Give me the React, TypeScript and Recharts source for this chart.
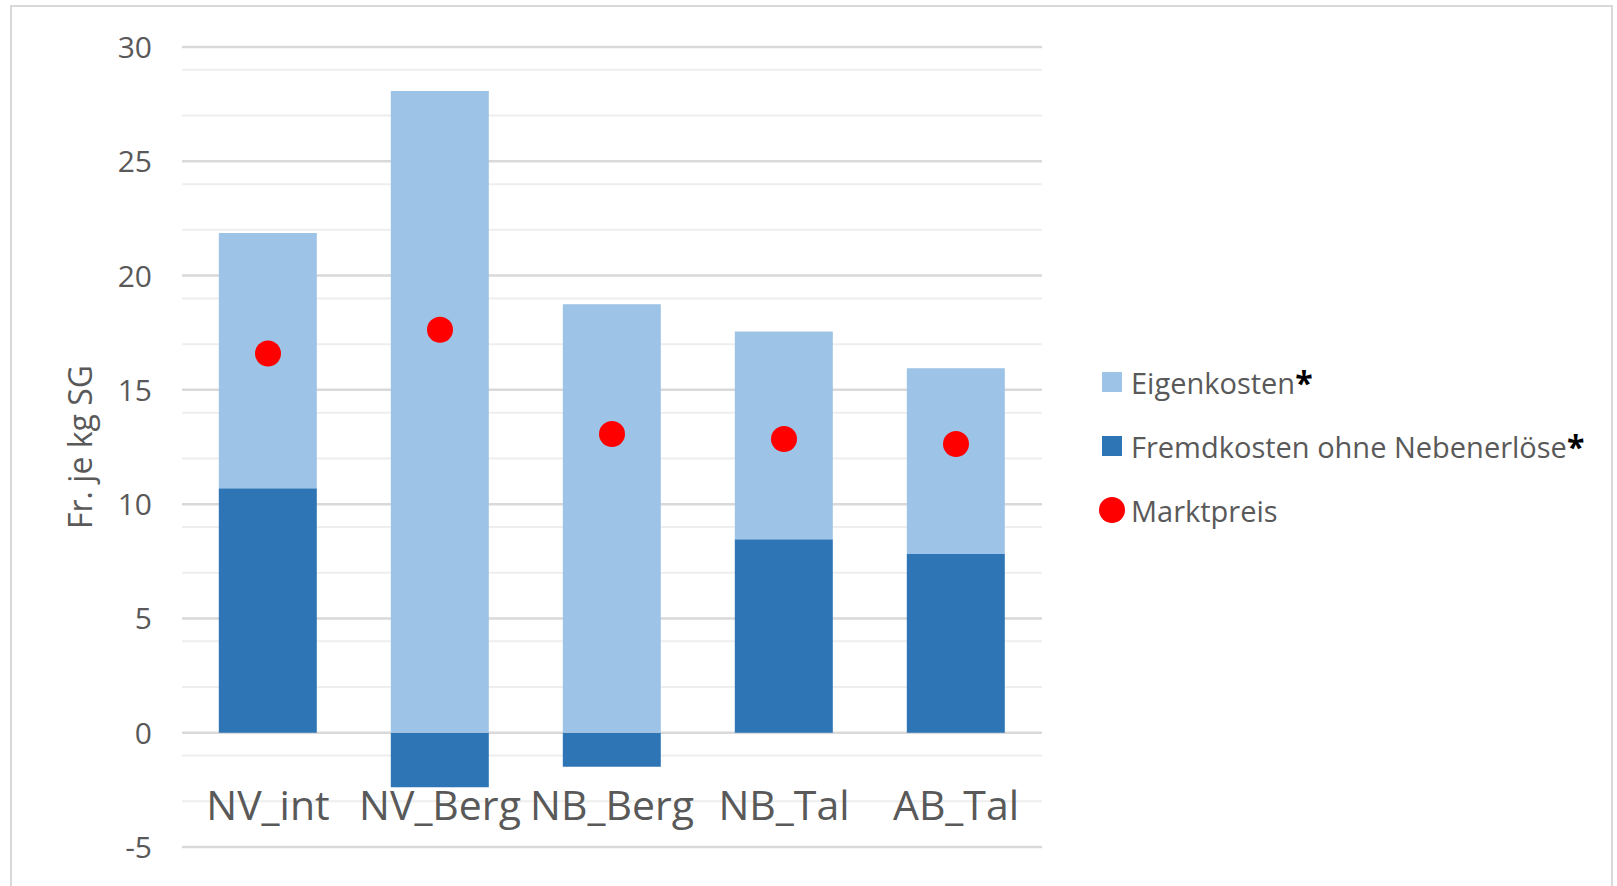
import { ComposedChart, Bar, Line, XAxis, YAxis, CartesianGrid } from 'recharts'

const categories = ['NV_int', 'NV_Berg', 'NB_Berg', 'NB_Tal', 'AB_Tal']
const eigenkosten = [11.17, 28.08, 18.75, 9.09, 8.13]
const fremdkosten = [10.69, -2.39, -1.49, 8.46, 7.82]
const marktpreis = [16.59, 17.63, 13.07, 12.85, 12.63]

const majorTicks = [-5, 0, 5, 10, 15, 20, 25, 30]
const minorTicks = [-4, -3, -2, -1, 1, 2, 3, 4, 6, 7, 8, 9, 11, 12, 13, 14, 16, 17, 18, 19, 21, 22, 23, 24, 26, 27, 28, 29]

const legendItems = [
  { key: 'eigen', name: 'Eigenkosten', star: true },
  { key: 'fremd', name: 'Fremdkosten ohne Nebenerlöse', star: true },
  { key: 'markt', name: 'Marktpreis', star: false },
]

const data = categories.map((name, i) => ({
  name,
  fremd: fremdkosten[i],
  eigen: eigenkosten[i],
  markt: marktpreis[i],
}))

const FONT = '"Open Sans", sans-serif'
const TEXT = '#595959'
const LIGHT = '#9DC3E6'
const DARK = '#2E75B6'
const RED = '#FF0000'

const colorOf: Record<string, string> = { eigen: LIGHT, fremd: DARK, markt: RED }

function YTick(props: any) {
  const { x, y, payload } = props
  return (
    <text x={x} y={y} dy={11} textAnchor="end" fill={TEXT} fontSize={30} fontFamily={FONT}>
      {payload.value}
    </text>
  )
}

function XTick(props: any) {
  const { x, y, payload } = props
  return (
    <text x={x} y={y - 27} textAnchor="middle" fill={TEXT} fontSize={41} fontFamily={FONT}>
      {payload.value}
    </text>
  )
}

function LegendBox() {
  return (
    <div style={{ fontFamily: FONT, fontSize: 29, color: TEXT }}>
      {legendItems.map((item) => (
        <div key={item.key} style={{ height: 64, display: 'flex', alignItems: 'center', whiteSpace: 'nowrap' }}>
          <div style={{ width: 26, display: 'flex', justifyContent: 'center', marginRight: 6 }}>
            {item.key === 'markt' ? (
              <div style={{ width: 26, height: 26, borderRadius: 13, background: colorOf[item.key] }} />
            ) : (
              <div style={{ width: 20, height: 20, background: colorOf[item.key] }} />
            )}
          </div>
          <span>{item.name}</span>
          {item.star && <span style={{ color: '#000', fontWeight: 700, fontSize: 32 }}>*</span>}
        </div>
      ))}
    </div>
  )
}

export default function App() {
  return (
    <div style={{ position: 'absolute', left: 0, top: 0, width: 1617, height: 886, overflow: 'hidden', background: '#fff' }}>
      <div
        style={{
          position: 'absolute',
          left: 10,
          top: 5,
          width: 1603,
          height: 920,
          border: '2.5px solid #d9d9d9',
          boxSizing: 'border-box',
        }}
      />
      <div style={{ position: 'absolute', left: 0, top: 0 }}>
        <ComposedChart
          width={1617}
          height={886}
          data={data}
          stackOffset="sign"
          barCategoryGap="21.4%"
          margin={{ top: 47, right: 575, bottom: 9, left: 0 }}
        >
          <CartesianGrid vertical={false} horizontalValues={minorTicks} stroke="#eeeeee" strokeWidth={2} />
          <CartesianGrid vertical={false} horizontalValues={majorTicks} stroke="#d9d9d9" strokeWidth={2.5} />
          <XAxis
            dataKey="name"
            axisLine={false}
            tickLine={false}
            tickSize={0}
            tickMargin={0}
            height={30}
            interval={0}
            tick={<XTick />}
          />
          <YAxis
            type="number"
            domain={[-5, 30]}
            ticks={majorTicks}
            axisLine={false}
            tickLine={false}
            tickSize={6}
            tickMargin={24}
            width={182}
            tick={<YTick />}
            label={{
              content: (p: any) => {
                const vb = p.viewBox
                const cy = vb.y + vb.height / 2
                return (
                  <text
                    x={92}
                    y={cy}
                    transform={`rotate(-90 92 ${cy})`}
                    textAnchor="middle"
                    fill={TEXT}
                    fontSize={32}
                    fontFamily={FONT}
                  >
                    Fr. je kg SG
                  </text>
                )
              },
            }}
          />
          <Bar dataKey="fremd" name="Fremdkosten ohne Nebenerlöse" stackId="a" fill={DARK} isAnimationActive={false} />
          <Bar dataKey="eigen" name="Eigenkosten" stackId="a" fill={LIGHT} isAnimationActive={false} />
          <Line
            dataKey="markt"
            name="Marktpreis"
            stroke="none"
            strokeWidth={0}
            dot={{ r: 13, fill: RED, stroke: 'none' }}
            activeDot={false}
            isAnimationActive={false}
          />
        </ComposedChart>
      </div>
      <div style={{ position: 'absolute', left: 1099, top: 350 }}>
        <LegendBox />
      </div>
    </div>
  )
}
